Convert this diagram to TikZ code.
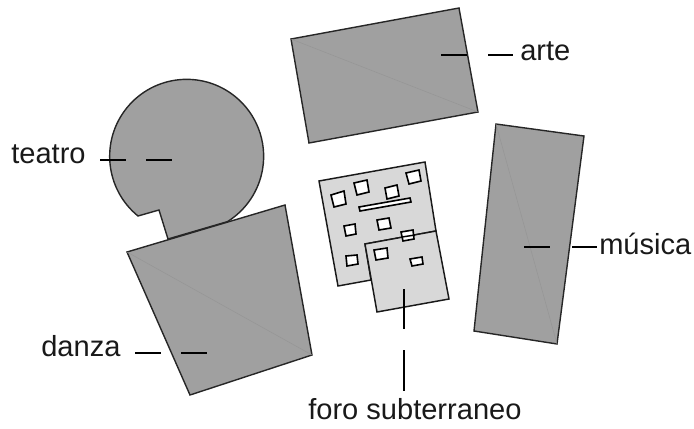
\documentclass[tikz,border=0pt]{standalone}
\usepackage{fontspec}
\setmainfont{Liberation Sans}
\definecolor{darkfill}{RGB}{160,160,160}
\definecolor{lightfill}{RGB}{216,216,216}
\definecolor{creasecol}{RGB}{150,150,150}
\tikzset{
  x=0.75pt,y=-0.75pt,
  bld/.style={draw=black!85,line width=1.05pt,fill=darkfill,line join=miter},
  lgt/.style={draw=black!90,line width=1.1pt,fill=lightfill},
  win/.style={draw=black,line width=1.2pt,fill=white},
  lead/.style={draw=black,line width=1.1pt},
  crease/.style={draw=creasecol,line width=0.4pt},
  lab/.style={font=\fontsize{21.8}{24}\selectfont,inner sep=0pt,text=black!90}
}
\begin{document}
\begin{tikzpicture}
\useasboundingbox (0,0) rectangle (694,429);
% teatro
\path[bld] (168,239) -- (159,210) -- (138,216)
  arc[start angle=230.8,end angle=-58,radius=57.75pt] -- cycle;
% danza
\path[bld] (127,252) -- (285,205) -- (312,355) -- (190,395) -- cycle;
\draw[crease] (127,252) -- (312,355);
% arte
\path[bld] (291,39) -- (459,8) -- (478,112) -- (309,143) -- cycle;
\draw[crease] (291,39) -- (478,112);
% musica
\path[bld] (496,124) -- (584,136) -- (557,344) -- (474,331) -- cycle;
\draw[crease] (496,124) -- (557,344);
% foro
\path[lgt] (319,181) -- (425,162) -- (436,231) -- (365,244) -- (371,280) -- (338,286) -- cycle;
\path[lgt] (365,244) -- (436,231) -- (449,299) -- (377,312) -- cycle;
\path[win] (331,195) -- (344,191) -- (346,204) -- (334,207) -- cycle;
\path[win] (354,183) -- (367,180) -- (369,192) -- (357,195) -- cycle;
\path[win] (385,188) -- (397,185) -- (399,196) -- (387,199) -- cycle;
\path[win] (406,173) -- (419,170) -- (421,181) -- (409,184) -- cycle;
\path[win] (359,207) -- (410,198) -- (411,202) -- (360,211) -- cycle;
\path[win] (344,226) -- (355,224) -- (356,234) -- (346,236) -- cycle;
\path[win] (377,220) -- (389,218) -- (391,228) -- (379,230) -- cycle;
\path[win] (346,256) -- (357,255) -- (358,264) -- (347,266) -- cycle;
\path[win] (401,232) -- (413,230) -- (414,239) -- (403,241) -- cycle;
\path[win] (374,250) -- (387,248) -- (388,258) -- (376,260) -- cycle;
\path[win] (410,259) -- (422,257) -- (423,264) -- (412,266) -- cycle;
\draw[line width=1.1pt] (402,237) -- (415,235);
% labels
\node[lab,anchor=base west] (arte) at (520,60) {arte};
\node[lab,anchor=base west] (teatro) at (11,163) {teatro};
\node[lab,anchor=base west] (danza) at (41,356) {danza};
\node[lab,anchor=base west] (musica) at (599,254) {música};
\node[lab,anchor=base west] (foro) at (308,419) {foro subterraneo};
% leaders
\coordinate (a1) at (441,55); \coordinate (a2) at (467,55);
\coordinate (a3) at (488,55); \coordinate (a4) at (513,55);
\draw[lead] (a1) -- (a2); \draw[lead] (a3) -- (a4);
\coordinate (t1) at (100,160); \coordinate (t2) at (126,160);
\coordinate (t3) at (146,160); \coordinate (t4) at (172,160);
\draw[lead] (t1) -- (t2); \draw[lead] (t3) -- (t4);
\coordinate (d1) at (135,353); \coordinate (d2) at (161,353);
\coordinate (d3) at (181,353); \coordinate (d4) at (207,353);
\draw[lead] (d1) -- (d2); \draw[lead] (d3) -- (d4);
\coordinate (m1) at (524,247); \coordinate (m2) at (550,247);
\coordinate (m3) at (572,247); \coordinate (m4) at (597,247);
\draw[lead] (m1) -- (m2); \draw[lead] (m3) -- (m4);
\coordinate (f1) at (404,289); \coordinate (f2) at (404,329);
\coordinate (f3) at (404,350); \coordinate (f4) at (404,391);
\draw[lead] (f1) -- (f2); \draw[lead] (f3) -- (f4);
\end{tikzpicture}
\end{document}
